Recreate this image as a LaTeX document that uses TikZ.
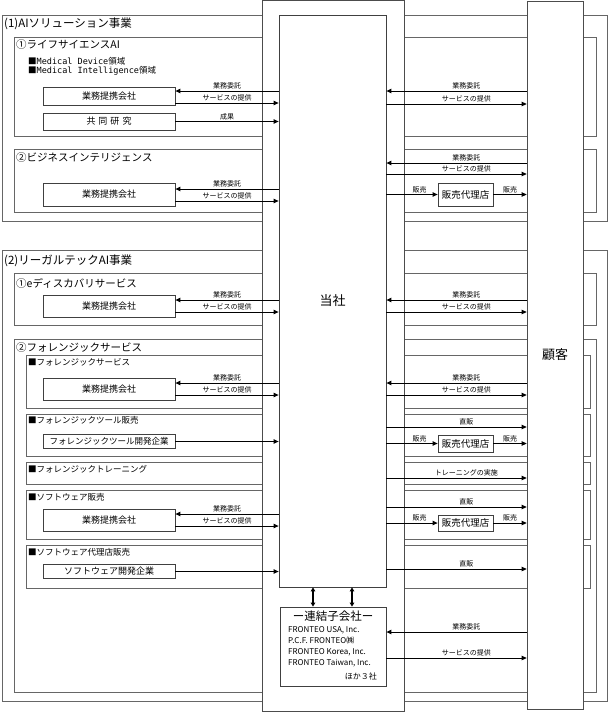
\documentclass[tikz,border=0pt]{standalone}
\usepackage{fontspec}
\setmainfont{Noto Sans CJK JP}
\newfontfamily\monolat{DejaVu Sans Mono}
\usetikzlibrary{arrows.meta}

\tikzset{
    frame/.style={draw=black!60, line width=0.7pt},
    lane/.style={draw=black!70, fill=white, line width=0.7pt},
    box/.style={draw=black!75, fill=white, line width=0.8pt, inner sep=1pt},
    partner/.style={box, minimum width=132pt, font=\fontsize{9}{10}\selectfont},
    dealer/.style={box, minimum width=55pt, font=\fontsize{9.5}{10}\selectfont},
    arr/.style={-{Triangle[length=5pt,width=4.5pt]}, line width=0.9pt},
    dblarr/.style={{Triangle[length=4pt,width=4.5pt]}-{Triangle[length=4pt,width=4.5pt]}, line width=1.2pt},
    lbl/.style={above, inner sep=1pt, font=\fontsize{7}{8}\selectfont},
    ttlA/.style={right, inner sep=0pt, font=\fontsize{11.5}{13}\selectfont},
    ttlB/.style={right, inner sep=0pt, font=\fontsize{10.5}{12}\selectfont},
    ttlC/.style={right, inner sep=0pt, font=\fontsize{8.5}{10}\selectfont}
}

\begin{document}
\begin{tikzpicture}[x=1pt, y=-1pt]
    \useasboundingbox (0,0) rectangle (608,712);

    % Section frames (drawn first, the lanes cover them)
    \foreach \xa/\ya/\xb/\yb in {2/15/607/221, 14/37/596/136, 14/149/596/212,
                                 2/250/607/701, 14/273/596/325, 14/339/596/692,
                                 26/355/590/408, 26/414/590/456, 26/462/590/484,
                                 26/490/590/539, 26/545/590/588} {
        \draw[frame] (\xa,\ya) rectangle (\xb,\yb);
    }

    % Lanes
    \draw[lane] (262,0.5) rectangle (404,711);
    \node[lane, minimum width=56pt, minimum height=708pt, font=\fontsize{13}{14}\selectfont] (kokyaku) at (555,355) {顧客};
    \node[box, minimum width=107pt, minimum height=572pt, font=\fontsize{13}{14}\selectfont] (tosha) at (332.5,301) {当社};
    \node[box, minimum width=106pt, minimum height=79pt] (renketsu) at (333,646.5) {};

    % Section titles
    \node[ttlA] (t1) at (4,24) {(1)AIソリューション事業};
    \node[ttlB] (t1a) at (16,45) {①ライフサイエンスAI};
    \node[ttlC] (t1am) at (28,61) {■{\monolat Medical Device}領域};
    \node[ttlC] (t1ai) at (28,71) {■{\monolat Medical Intelligence}領域};
    \node[ttlB] (t1b) at (16,158) {②ビジネスインテリジェンス};
    \node[ttlA] (t2) at (4,261) {(2)リーガルテックAI事業};
    \node[ttlB] (t2a) at (16,283) {①eディスカバリサービス};
    \node[ttlB] (t2b) at (16,348) {②フォレンジックサービス};
    \node[ttlC] (t2b1) at (28,362) {■フォレンジックサービス};
    \node[ttlC] (t2b2) at (28,420) {■フォレンジックツール販売};
    \node[ttlC] (t2b3) at (28,469) {■フォレンジックトレーニング};
    \node[ttlC] (t2b4) at (28,497) {■ソフトウェア販売};
    \node[ttlC] (t2b5) at (28,552) {■ソフトウェア代理店販売};

    % Partner boxes
    \node[partner, minimum height=18pt] (lsP) at (109,96) {業務提携会社};
    \node[partner, minimum height=17pt] (lsK) at (109,121.5) {共\hspace{3pt}同\hspace{3pt}研\hspace{3pt}究};
    \node[partner, minimum height=23pt] (biP) at (109,194.5) {業務提携会社};
    \node[partner, minimum height=22pt] (edP) at (109,306) {業務提携会社};
    \node[partner, minimum height=22pt] (fsP) at (109,389) {業務提携会社};
    \node[partner, minimum height=14pt, font=\fontsize{8.5}{9}\selectfont] (ftD) at (109,441.5) {フォレンジックツール開発企業};
    \node[partner, minimum height=22pt] (swP) at (109,520) {業務提携会社};
    \node[partner, minimum height=14pt] (swD) at (109,571.5) {ソフトウェア開発企業};

    % Dealer boxes
    \node[dealer, minimum height=23pt] (biD) at (465.5,194.5) {販売代理店};
    \node[dealer, minimum height=17pt] (ftA) at (465.5,443.5) {販売代理店};
    \node[dealer, minimum height=16pt] (swA) at (465.5,523) {販売代理店};

    % Consolidated subsidiaries
    \node[anchor=north, inner sep=0pt, font=\fontsize{11.5}{13}\selectfont] (rkT) at (333,611) {ー連結子会社ー};
    \node[anchor=north west, align=left, inner sep=0pt, font=\fontsize{8}{11}\selectfont] (rkL) at (288,626)
        {FRONTEO USA, Inc.\\P.C.F. FRONTEO㈱\\FRONTEO Korea, Inc.\\FRONTEO Taiwan, Inc.};
    \node[anchor=east, inner sep=0pt, font=\fontsize{8}{11}\selectfont] (rkO) at (377,676) {ほか３社};

    % Partners <-> 当社
    \foreach \p/\ya/\yb in {lsP/91/103, biP/189/201, edP/300/312, fsP/383/395, swP/514/526} {
        \draw[arr] (tosha.west |- 0,\ya) -- (\p.east |- 0,\ya) node[lbl, midway] {業務委託};
        \draw[arr] (\p.east |- 0,\yb) -- (tosha.west |- 0,\yb) node[lbl, midway] {サービスの提供};
    }
    \draw[arr] (lsK.east) -- (lsK.east -| tosha.west) node[lbl, midway] {成果};
    \draw[arr] (ftD.east) -- (ftD.east -| tosha.west);
    \draw[arr] (swD.east) -- (swD.east -| tosha.west);

    % 当社 <-> 顧客
    \foreach \ya/\yb in {91/104, 163/174, 300/312, 383/395} {
        \draw[arr] (kokyaku.west |- 0,\ya) -- (tosha.east |- 0,\ya) node[lbl, pos=.43] {業務委託};
        \draw[arr] (tosha.east |- 0,\yb) -- (kokyaku.west |- 0,\yb) node[lbl, pos=.57] {サービスの提供};
    }
    \foreach \y in {427, 507, 569} {
        \draw[arr] (tosha.east |- 0,\y) -- (kokyaku.west |- 0,\y) node[lbl, pos=.57] {直販};
    }
    \draw[arr] (tosha.east |- 0,478) -- (kokyaku.west |- 0,478) node[lbl, pos=.57] {トレーニングの実施};

    % via dealers
    \foreach \d in {biD, ftA, swA} {
        \draw[arr] (tosha.east |- \d.west) -- (\d.west) node[lbl, pos=.65] {販売};
        \draw[arr] (\d.east) -- (\d.east -| kokyaku.west) node[lbl, midway] {販売};
    }

    % 連結子会社
    \draw[dblarr] (tosha.south -| 313,0) -- (renketsu.north -| 313,0);
    \draw[dblarr] (tosha.south -| 352,0) -- (renketsu.north -| 352,0);
    \draw[arr] (kokyaku.west |- 0,632) -- (renketsu.east |- 0,632) node[lbl, pos=.43] {業務委託};
    \draw[arr] (renketsu.east |- 0,658) -- (kokyaku.west |- 0,658) node[lbl, pos=.57] {サービスの提供};
\end{tikzpicture}
\end{document}
